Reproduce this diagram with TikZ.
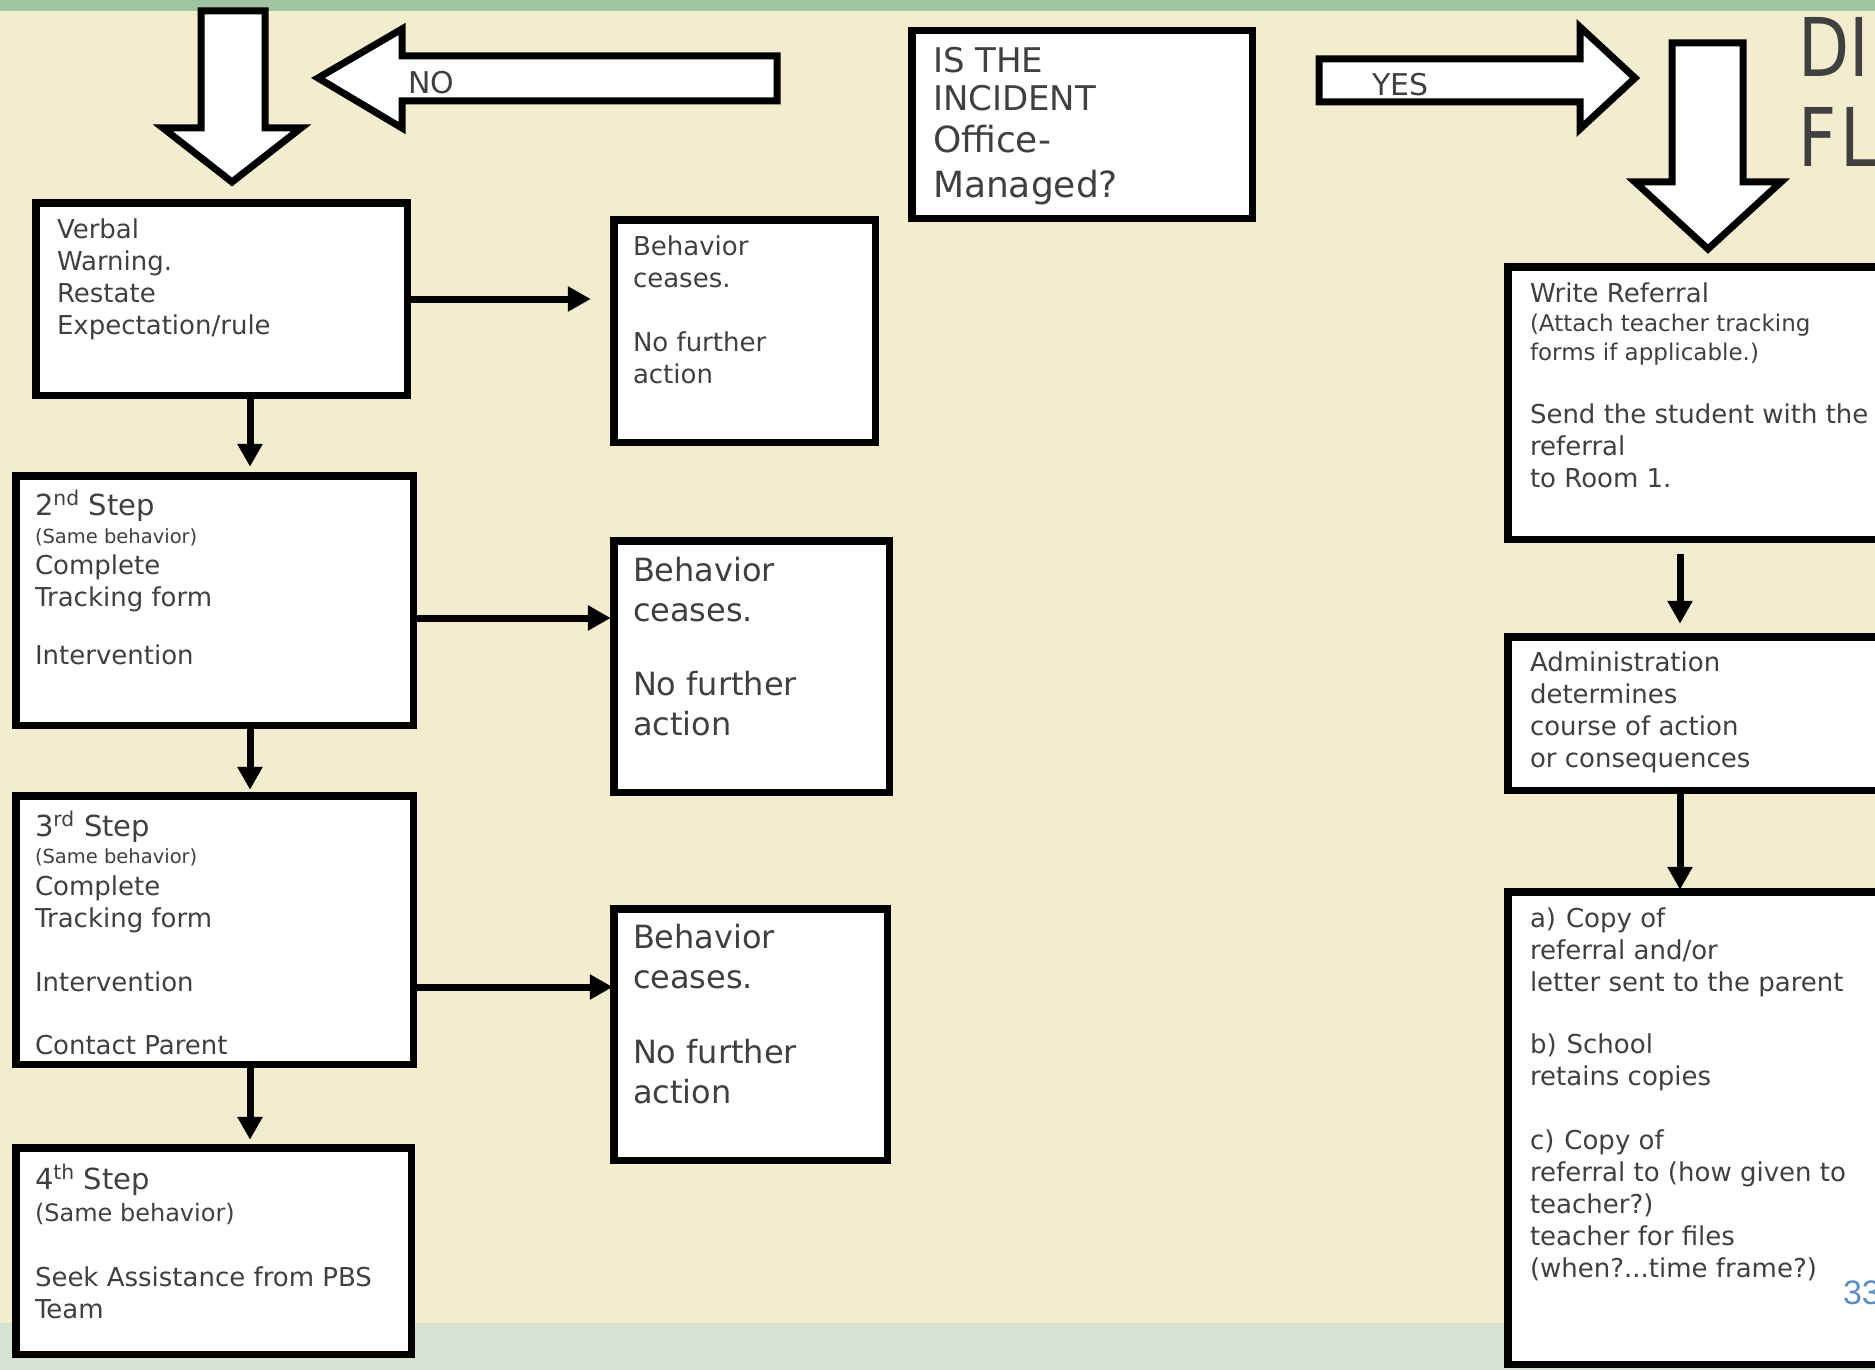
\documentclass[tikz,border=0pt]{standalone}
\usepackage{fontspec}
\setmainfont{DejaVu Sans}
\newfontfamily\pagefont{Liberation Sans}
\usetikzlibrary{arrows.meta,calc}
\definecolor{cream}{RGB}{243,236,206}
\definecolor{topgreen}{RGB}{160,196,160}
\definecolor{botgreen}{RGB}{214,227,211}
\definecolor{ink}{RGB}{64,64,64}
\definecolor{pagenum}{RGB}{91,142,194}
\newcommand\fs[2]{\fontsize{#1}{#2}\selectfont}
\newcommand\fstrut{\rule{0pt}{30pt}}
\newcommand\bx[5]{\node[bx, anchor=north west, minimum width={(#4-#2-7.5)*1pt}, minimum height={(#5-#3-7.5)*1pt}] (#1) at ({#2+3.75},{#3+3.75}) {};}
\begin{document}
\begin{tikzpicture}[x=1pt,y=-1pt,
  bx/.style={draw=black, fill=white, line width=7.5pt, outer sep=0pt, inner sep=0pt, rectangle},
  txt/.style={anchor=north west, align=left, inner sep=0pt, outer sep=0pt, text=ink},
  conn/.style={draw=black, line width=7pt, -{Triangle[length=23pt,width=24pt]}},
  blk/.style={draw=black, fill=white, line width=7pt, line join=miter},
  lbl/.style={inner sep=0pt, outer sep=0pt, text=ink, anchor=base west}]
\useasboundingbox (0,0) rectangle (1875,1370);
\fill[cream] (0,0) rectangle (1875,1370);
\fill[topgreen] (0,0) rectangle (1875,11);
\fill[botgreen] (0,1323) rectangle (1875,1370);

% block arrows
\draw[blk] (201,11) -- (265,11) -- (265,128) -- (301,128) -- (232,182) -- (163,128) -- (201,128) -- cycle;
\draw[blk] (318,78) -- (402,29) -- (402,56) -- (777,56) -- (777,101) -- (402,101) -- (402,128) -- cycle;
\draw[blk] (1319,59) -- (1580,59) -- (1580,27) -- (1635,78) -- (1580,129) -- (1580,102) -- (1319,102) -- cycle;
\draw[blk] (1672,43) -- (1743,43) -- (1743,182) -- (1781,182) -- (1708,249) -- (1635,182) -- (1672,182) -- cycle;
\node[lbl, font=\fs{30}{36}] (no) at (408,94) {NO};
\node[lbl, font=\fs{30}{36}] (yes) at (1372,96) {YES};

% boxes
\bx{B1}{32}{199}{411}{399}
\bx{B2}{610}{216}{879}{446}
\bx{B3}{12}{472}{417}{729}
\bx{B4}{610}{537}{893}{796}
\bx{B5}{12}{792}{417}{1068}
\bx{B6}{610}{905}{891}{1164}
\bx{B7}{12}{1144}{415}{1358}
\bx{B8}{908}{27}{1256}{222}
\bx{B9}{1504}{263}{1890}{543}
\bx{B10}{1504}{633}{1890}{794}
\bx{B11}{1504}{888}{1890}{1368}

% texts
\node[txt, font=\fs{26}{32}] (T1) at (57,208) {\fstrut Verbal\\Warning.\\Restate\\Expectation/rule};
\node[txt, font=\fs{26}{32}] (T2) at (633,225) {\fstrut Behavior\\ceases.\\[32pt]No further\\action};
\node[txt, font=\fs{26}{31}] (T3) at (35,485) {\fstrut{\fs{29}{31}2\textsuperscript{nd} Step}\\[-3pt]{\fs{19.5}{31}(Same behavior)}\\Complete\\[1pt]Tracking form\\[27pt]Intervention};
\node[txt, font=\fs{32}{40}] (T4) at (633,551) {\fstrut Behavior\\ceases.\\[34pt]No further\\action};
\node[txt, font=\fs{26}{32}] (T5) at (35,806) {\fstrut{\fs{29}{32}3\textsuperscript{rd} Step}\\[-5pt]{\fs{19.5}{32}(Same behavior)}\\Complete\\Tracking form\\[32pt]Intervention\\[31pt]Contact Parent};
\node[txt, font=\fs{32}{40}] (T6) at (633,918) {\fstrut Behavior\\ceases.\\[35pt]No further\\action};
\node[txt, font=\fs{26}{32}] (T7) at (35,1159) {\fstrut{\fs{29}{32}4\textsuperscript{th} Step}\\{\fs{24}{32}(Same behavior)}\\[33pt]Seek Assistance from PBS\\Team};
\node[txt, font=\fs{34}{38}] (T8) at (933,42) {\fstrut IS THE\\INCIDENT\\[4pt]{\fs{36}{38}Office-}\\[7pt]{\fs{36}{38}Managed?}};
\node[txt, font=\fs{26}{32}] (T9) at (1530,272) {\fstrut Write Referral\\[-3pt]{\fs{23}{32}(Attach teacher tracking}\\[-3pt]{\fs{23}{32}forms if applicable.)}\\[31pt]Send the student with the\\referral\\to Room 1.};
\node[txt, font=\fs{26}{32}] (T10) at (1530,641) {\fstrut Administration\\determines\\course of action\\or consequences};
\node[txt, font=\fs{26}{32}] (T11) at (1530,897) {\fstrut a)\hspace{10pt}Copy of\\referral and/or\\letter sent to the parent\\[30pt]b)\hspace{10pt}School\\retains copies\\[32pt]c)\hspace{10pt}Copy of\\referral to (how given to\\teacher?)\\teacher for files\\(when?...time frame?)};

% title (cut off at the edge) and page number
\node[lbl, font=\fs{81}{90}] (ttl1) at (1798,77) {\scalebox{0.82}[1]{D}\scalebox{0.82}[1]{I}};
\node[lbl, font=\fs{81}{90}] (ttl2) at (1798,167) {\scalebox{0.82}[1]{F}\hspace{4pt}\scalebox{0.82}[1]{L}};
\node[lbl, text=pagenum, font=\pagefont\fs{34}{40}] (pg) at (1843,1304) {33};

% connectors
\coordinate (cL) at (250,0);
\coordinate (cR) at (1680,0);
\coordinate (h3) at ([yshift=-17.5pt]B3.east);
\coordinate (h5) at ([yshift=-57pt]B5.east);
\draw[conn, shorten >=23pt] (B1.east) -- (B1.east -| B2.west);
\draw[conn, shorten >=3pt] (h3) -- (h3 -| B4.west);
\draw[conn, shorten >=1pt] (h5) -- (h5 -| B6.west);
\draw[conn, shorten >=9pt] (B1.south -| cL) -- (B3.north -| cL);
\draw[conn, shorten >=6pt] (B3.south -| cL) -- (B5.north -| cL);
\draw[conn, shorten >=8pt] (B5.south -| cL) -- (B7.north -| cL);
\draw[conn, shorten <=15pt, shorten >=13pt] (B9.south -| cR) -- (B10.north -| cR);
\draw[conn, shorten >=2pt] (B10.south -| cR) -- (B11.north -| cR);
\end{tikzpicture}
\end{document}
